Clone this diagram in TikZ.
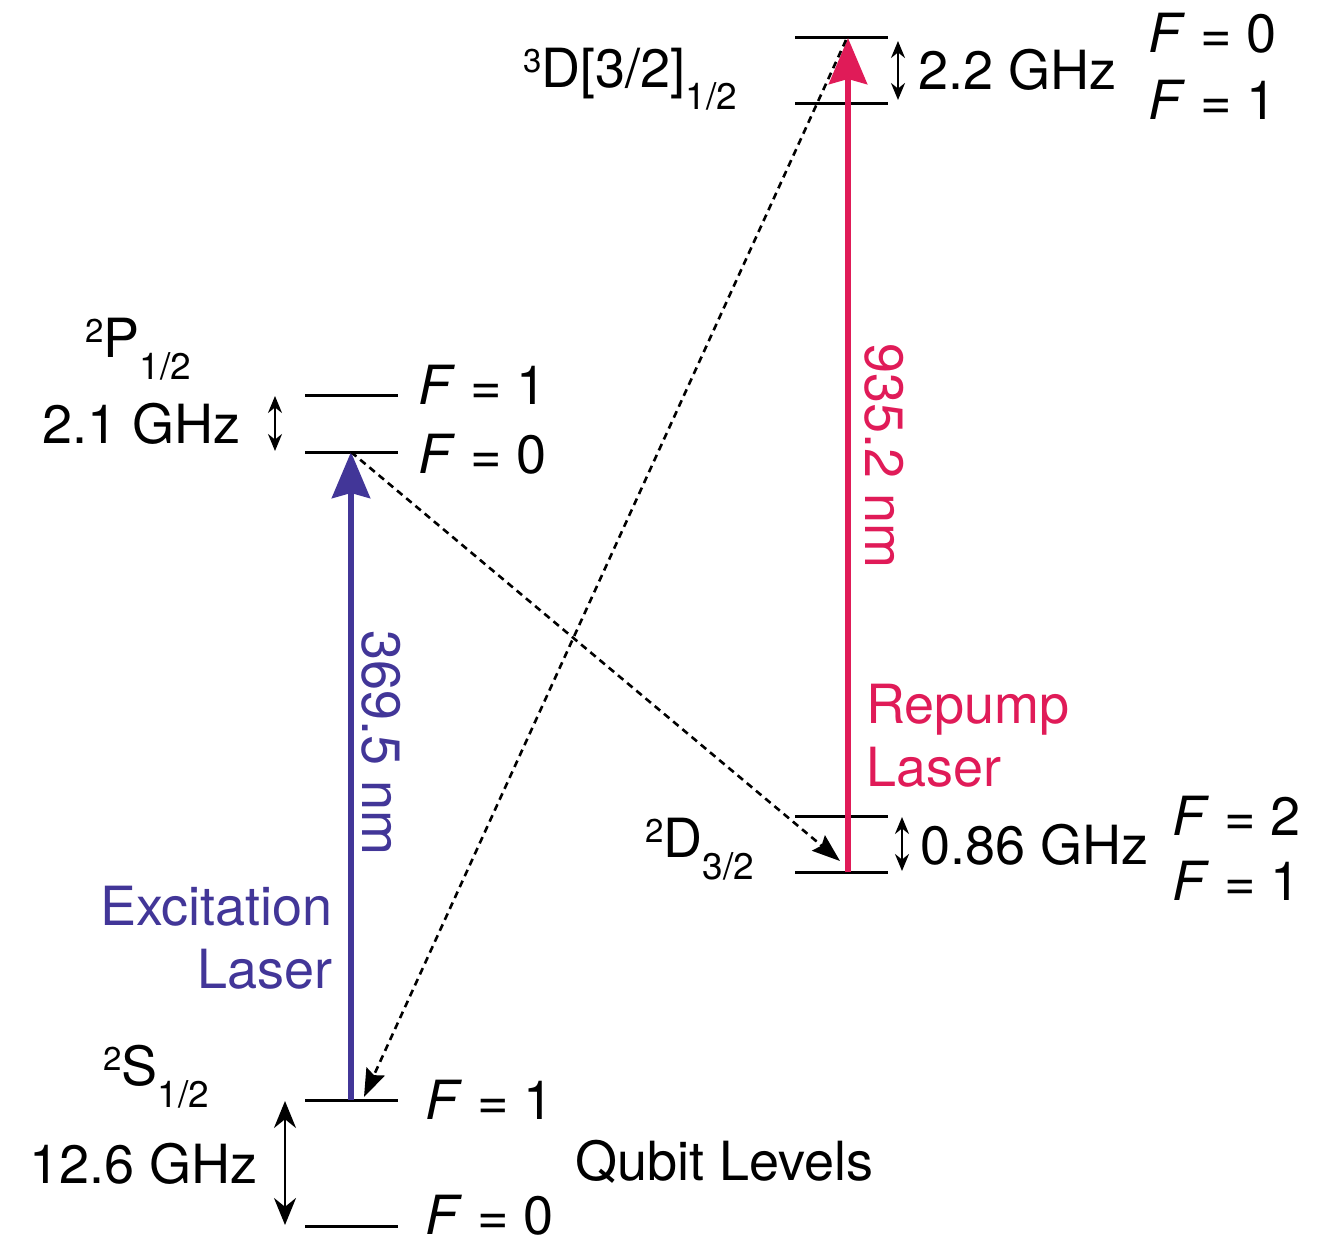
\documentclass[tikz,border=0pt]{standalone}
\usepackage{fontspec}
\setmainfont{TeX Gyre Heros}
\usetikzlibrary{arrows.meta}

\definecolor{exciteblue}{RGB}{66,54,152}
\definecolor{repumppink}{RGB}{224,27,88}

% term symbol: superscript, letter, subscript
\newcommand{\term}[3]{\raisebox{15pt}{\fontsize{33}{33}\selectfont #1}#2\raisebox{-22pt}{\fontsize{37}{37}\selectfont #3}}
\newcommand{\Flev}[1]{\textit{F} = #1}

\begin{document}
\begin{tikzpicture}[x=1pt, y=-1pt, >=Stealth, font=\fontsize{54}{60}\selectfont,
    every node/.style={inner sep=0pt},
    level/.style={line width=3pt},
    gap/.style={{Stealth[length=17pt,width=14pt]}-{Stealth[length=17pt,width=14pt]}, line width=2.2pt},
    biggap/.style={{Stealth[length=27pt,width=22pt]}-{Stealth[length=27pt,width=22pt]}, line width=2.6pt},
    laser/.style={-{Stealth[length=46pt,width=38pt,inset=5pt]}, line width=6pt},
    decay/.style={-{Stealth[length=28pt,width=20pt,inset=4pt]}, line width=2.6pt, dash pattern=on 7pt off 5pt}]
    \useasboundingbox (0,0) rectangle (1328,1241);

    % Hyperfine levels, all 93 wide
    \foreach \x/\y in {305/395, 305/452, 305/1100, 305/1226, 795/38, 795/104, 795/816, 795/872}
        \draw[level] (\x,\y) -- ++(93,0);

    % Points on the levels
    \coordinate (s1) at (351,1100);
    \coordinate (p0) at (351,452);
    \coordinate (d1) at (848,872);
    \coordinate (t0) at (848,38);
    \coordinate (ttop) at (846,40);
    \coordinate (dtip) at (840,861);
    \coordinate (stip) at (364,1097);

    % Ends of the splitting arrows
    \coordinate (sgapa) at (285,1101);
    \coordinate (sgapb) at (285,1225);
    \coordinate (pgapa) at (275,396);
    \coordinate (pgapb) at (275,451);
    \coordinate (dgapa) at (902,817);
    \coordinate (dgapb) at (902,871);
    \coordinate (tgapa) at (898,41);
    \coordinate (tgapb) at (898,100);

    % 2S1/2
    \node[anchor=base west] (sname) at (103,1085) {\term{2}{S}{1/2}};
    \node[anchor=base west] (sf1) at (425,1119) {\Flev{1}};
    \node[anchor=base west] (sf0) at (425,1234) {\Flev{0}};
    \node[anchor=base east] (sgap) at (258,1183) {12.6 GHz};
    \node[anchor=base west] (qubit) at (575,1180) {Qubit Levels};

    % 2P1/2
    \node[anchor=base west] (pname) at (85,357) {\term{2}{P}{1/2}};
    \node[anchor=base west] (pf1) at (418,404) {\Flev{1}};
    \node[anchor=base west] (pf0) at (418,473) {\Flev{0}};
    \node[anchor=base east] (pgap) at (241,443) {2.1 GHz};

    % 2D3/2
    \node[anchor=base west] (dname) at (645,857) {\term{2}{D}{3/2}};
    \node[anchor=base west] (dgap) at (920,864) {0.86 GHz};
    \node[anchor=base west] (df2) at (1172,835) {\Flev{2}};
    \node[anchor=base west] (df1) at (1172,900) {\Flev{1}};

    % 3D[3/2]1/2
    \node[anchor=base west] (tname) at (523,88) {\term{3}{D[3/2]}{1/2}};
    \node[anchor=base west] (tgap) at (918,90) {2.2 GHz};
    \node[anchor=base west] (tf0) at (1148,53) {\Flev{0}};
    \node[anchor=base west] (tf1) at (1148,120) {\Flev{1}};

    % Splittings
    \draw[biggap] (sgapa) -- (sgapb);
    \draw[gap] (pgapa) -- (pgapb);
    \draw[gap] (dgapa) -- (dgapb);
    \draw[gap] (tgapa) -- (tgapb);

    % Lasers
    \draw[laser, exciteblue] (s1) -- (p0);
    \draw[laser, repumppink] (d1) -- (t0);
    \node[anchor=base west, rotate=-90, text=exciteblue] (exwave) at (362,630) {369.5 nm};
    \node[anchor=base west, rotate=-90, text=repumppink] (rpwave) at (865,343) {935.2 nm};
    \node[anchor=base east, text=exciteblue] (exname) at (333,925) {Excitation};
    \node[anchor=base east, text=exciteblue] (exlaser) at (333,988) {Laser};
    \node[anchor=base west, text=repumppink] (rpname) at (866,723) {Repump};
    \node[anchor=base west, text=repumppink] (rplaser) at (866,786) {Laser};

    % Decays
    \draw[decay] (p0) -- (dtip);
    \draw[decay] (ttop) -- (stip);
\end{tikzpicture}
\end{document}
